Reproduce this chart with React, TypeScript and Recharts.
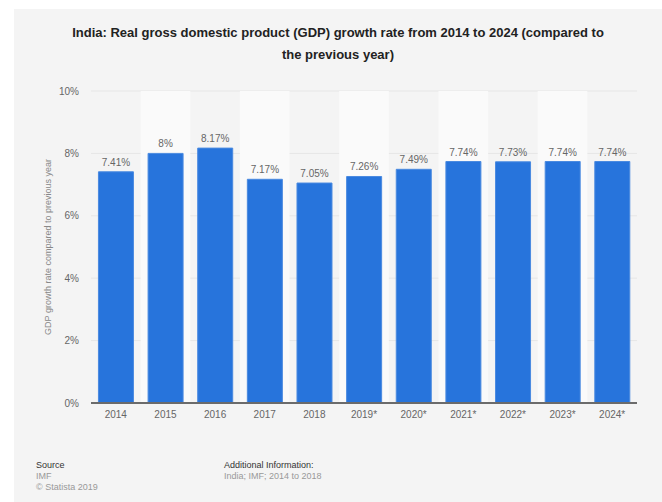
import React from "react";
import {
    BarChart,
    Bar,
    XAxis,
    YAxis,
    CartesianGrid,
    ReferenceArea,
    LabelList,
} from "recharts";

const years = [
    "2014",
    "2015",
    "2016",
    "2017",
    "2018",
    "2019*",
    "2020*",
    "2021*",
    "2022*",
    "2023*",
    "2024*",
];
const growth = [7.41, 8.0, 8.17, 7.17, 7.05, 7.26, 7.49, 7.74, 7.73, 7.74, 7.74];
const growthLabels = ["7.41%", "8%", "8.17%", "7.17%", "7.05%", "7.26%", "7.49%", "7.74%", "7.73%", "7.74%", "7.74%"];
const yTicks = [0, 2, 4, 6, 8, 10];

const FONT = "'Liberation Sans', Arial, sans-serif";

const data = years.map((year, i) => ({
    year,
    value: growth[i],
    label: growthLabels[i],
}));

export default function App() {
    return (
        <div
            style={{
                position: "absolute",
                left: 0,
                top: 0,
                width: 662,
                height: 502,
                overflow: "hidden",
                background: "#fff",
                fontFamily: FONT,
            }}
        >
            <div
                style={{
                    position: "absolute",
                    left: 14,
                    top: 9,
                    width: 648,
                    height: 493,
                    background: "#f4f4f4",
                }}
            />
            <div
                style={{
                    position: "absolute",
                    left: 14,
                    top: 22,
                    width: 648,
                    textAlign: "center",
                    fontWeight: "bold",
                    fontSize: 13,
                    lineHeight: "22px",
                    color: "#222",
                }}
            >
                India: Real gross domestic product (GDP) growth rate from 2014 to 2024 (compared to
                <br />
                the previous year)
            </div>
            <div style={{ position: "absolute", left: 0, top: 0 }}>
                <BarChart
                    width={662}
                    height={502}
                    data={data}
                    margin={{ top: 91, right: 25, left: 31, bottom: 79 }}
                    barCategoryGap="15%"
                >
                    {years.map((y, i) =>
                        i % 2 === 1 ? (
                            <ReferenceArea
                                key={y}
                                x1={y}
                                x2={y}
                                y1={0}
                                y2={10}
                                fill="#fafafa"
                                fillOpacity={1}
                                stroke="none"
                                ifOverflow="visible"
                            />
                        ) : null
                    )}
                    <CartesianGrid vertical={false} stroke="#e6e6e6" />
                    <XAxis
                        dataKey="year"
                        tickLine={false}
                        axisLine={{ stroke: "#6b6b6b", strokeWidth: 2 }}
                        tick={{ fill: "#666", fontSize: 10, fontFamily: FONT }}
                        height={20}
                        interval={0}
                    />
                    <YAxis
                        width={60}
                        domain={[0, 10]}
                        ticks={yTicks}
                        tickFormatter={(v) => `${v}%`}
                        axisLine={false}
                        tickLine={false}
                        tickMargin={6}
                        tick={{ fill: "#666", fontSize: 10, fontFamily: FONT }}
                        label={{
                            value: "GDP growth rate compared to previous year",
                            angle: -90,
                            position: "insideLeft",
                            offset: 17,
                            style: {
                                textAnchor: "middle",
                                fill: "#888",
                                fontSize: 9,
                                fontFamily: FONT,
                            },
                        }}
                    />
                    <Bar
                        dataKey="value"
                        fill="#2774dc"
                        stroke="#4a8ae0"
                        strokeWidth={1}
                        isAnimationActive={false}
                    >
                        <LabelList
                            dataKey="label"
                            position="top"
                            offset={6}
                            style={{ fill: "#666", fontSize: 10, fontFamily: FONT }}
                        />
                    </Bar>
                </BarChart>
            </div>
            <div style={{ position: "absolute", left: 36, top: 460, fontSize: 9, lineHeight: "11px" }}>
                <div style={{ color: "#333" }}>Source</div>
                <div style={{ color: "#999" }}>IMF</div>
                <div style={{ color: "#999" }}>© Statista 2019</div>
            </div>
            <div style={{ position: "absolute", left: 224, top: 460, fontSize: 9, lineHeight: "11px" }}>
                <div style={{ color: "#333" }}>Additional Information:</div>
                <div style={{ color: "#999" }}>India; IMF; 2014 to 2018</div>
            </div>
        </div>
    );
}
